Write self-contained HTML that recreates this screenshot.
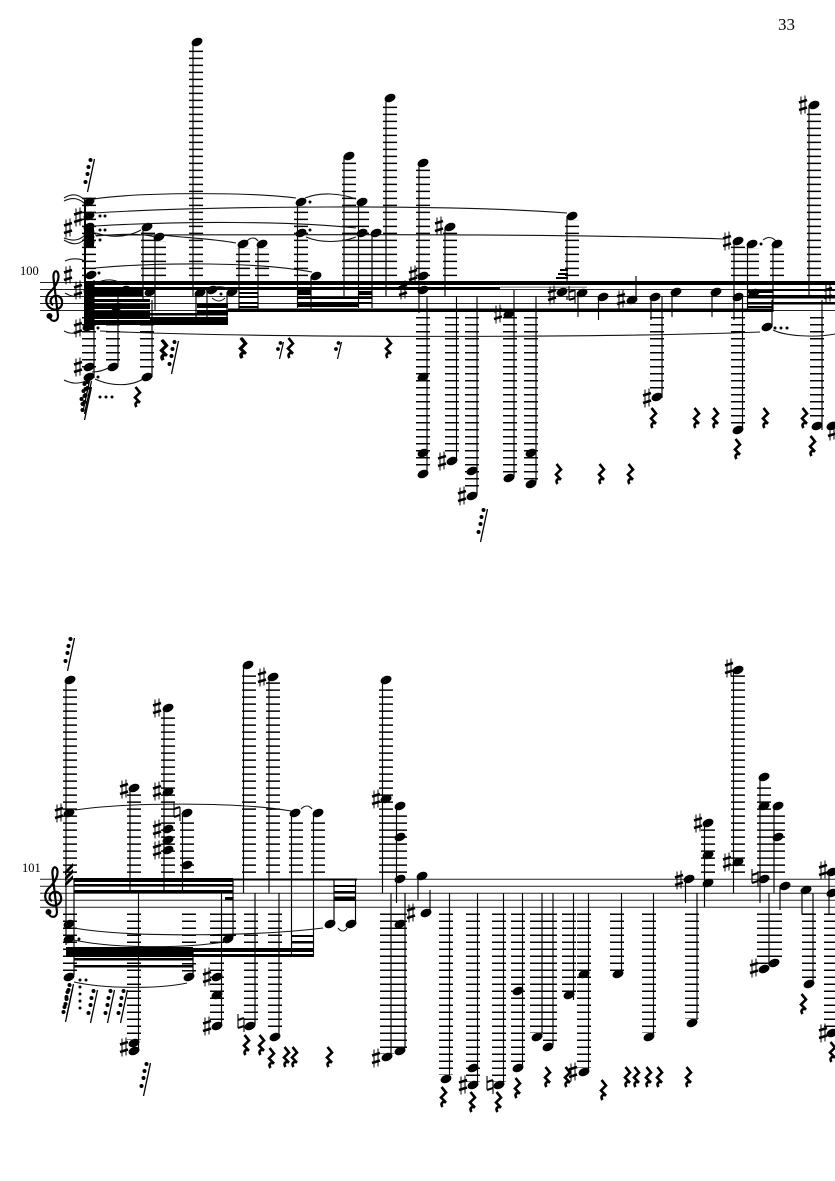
<!DOCTYPE html>
<html><head><meta charset="utf-8"><style>
html,body{margin:0;padding:0;background:#fff}
svg{display:block}
text{font-family:"Liberation Serif",serif;fill:#000}
.st{stroke:#222;stroke-width:1;fill:none}
.l{stroke:#000;stroke-dasharray:1.5 5.5;fill:none}
.s{stroke:#000;stroke-width:1.15;fill:none}
.t{stroke:#111;stroke-width:1.1;fill:none}
</style></head><body>
<svg width="835" height="1181" viewBox="0 0 835 1181" xmlns="http://www.w3.org/2000/svg">
<defs>
<ellipse id="n" rx="5.7" ry="3.9" transform="rotate(-22)"/>
<g id="h"><path d="M-2 -8.5V9.5M2 -9.5V8.5" stroke="#000" stroke-width="1"/><path d="M-4 -2.500L4 -5M-4 5L4 2.500" stroke="#000" stroke-width="2.6"/></g>
<g id="a"><path d="M-3 -9V5M3 -5V9" stroke="#000" stroke-width="1.1"/><path d="M-3 -3L3 -5M-3 5L3 3" stroke="#000" stroke-width="2.2"/></g>
<path id="r" d="M-1.500 -10L3 -4.500L-2 .5L3 5.500C0 4 -3 6 -.5 10" fill="none" stroke="#000" stroke-width="2.6"/>
<g id="g"><path d="M3.500 -16L-3.500 17" stroke="#000" stroke-width="1.3"/><circle cx="-.5" cy="-15" r="2"/><circle cx="-2.500" cy="-8" r="2"/><circle cx="-3.500" cy="-1" r="2"/><circle cx="-5.500" cy="7" r="2"/></g>
<g id="q"><path d="M2.500 -8L-1.500 9" stroke="#000" stroke-width="1.2"/><circle cx="-.5" cy="-7" r="1.9"/><circle cx="-3" cy="-1" r="1.9"/></g>
<g id="c"><path d="M49 316C51 323 58 322 58 316L53.500 278C53 272 56 269 58 273C60 279 56 286 51 291C44 297 45 306 52 309C58 311 63 307 62 301C61 295 54 294 51 299C50 302 51 304 53 305" fill="none" stroke="#000" stroke-width="2.2"/><circle cx="49.500" cy="316" r="3"/></g>
</defs>
<text x="778" y="30" font-size="17">33</text>
<text x="20" y="275" font-size="12.5">100</text>
<text x="22" y="872" font-size="12.5">101</text>
<path class="st" d="M40 282.500H835M40 289.500H835M40 296.500H835M40 303.500H835M40 310.500H835"/>
<path class="st" d="M40 879.300H835M40 886.300H835M40 893.300H835M40 900.300H835M40 907.300H835"/>
<use href="#c"/><use href="#c" x="-1" y="596"/>

<path class="l" stroke-width="14" d="M89 276.100V195M196 276.100V46M148 276.100V232M159 276.100V241M243 276.100V248M262 276.100V248M301 276.100V206M349 276.100V160M362 276.100V206M376 276.100V237M390 276.100V102M423 276.100V167M450 276.100V232M572 276.100V220M738 276.100V245M752 276.100V248M777 276.100V248M814 276.100V109"/>
<path class="l" stroke-width="14" d="M89 317V372M113 317V362M147 317V372M423 317V470M452 317V456M472 317V491M510 317V474M531 317V480M657 317V392M738 317V426M817 317V422"/>
<path class="l" stroke-width="14" d="M70 872.900V684M134 872.900V792M168 872.900V713M187 872.900V818M249 872.900V670M273 872.900V681M296 872.900V818M318 872.900V818M386 872.900V685M400 872.900V810M708 872.900V828M738 872.900V674M764 872.900V782M778 872.900V810"/>
<path class="l" stroke-width="14" d="M70 913.500V975M134 913.500V1040M189 913.500V943M189 963V975M217 913.500V1022M229 913.500V936M251 913.500V1022M275 913.500V1032M387 913.500V1054M400 913.500V1048M446 913.500V1075M473 913.500V1082M499 913.500V1082M518 913.500V1064M537 913.500V1033M550 913.500V1043M569 913.500V993M584 913.500V1068M617 913.500V971M649 913.500V1033M692 913.500V1019M764 913.500V964M775 913.500V960M809 913.500V981M831 913.500V1028"/>

<path d="M85 281H835V285H85ZM94 287H500L500 290H94ZM93 290H143V296H93ZM85 299H150V302H85ZM85 304H150V309H85ZM85 311H150V319H85ZM85 320H228V325H85ZM150 317H228V320H150ZM197 303H228V308H197ZM197 310H228V313H197ZM143 313H228V315.500H143ZM228 308.500H773V312H228ZM239 292H258V294H239ZM239 296H258V298H239ZM239 302H258V304H239ZM239 306H258V308H239ZM297 290H311V295H297ZM297 297H358V299H297ZM297 302H358V307H297ZM358 291H372V295H358ZM358 297H372V299H358ZM358 302H372V304H358ZM560 269H568V271H560ZM558 273H568V275H558ZM556 277H568V279H556ZM748 290H773V293H748ZM748 295H835V298.500H748ZM748 302H835V304.500H748ZM748 306H773V308H748ZM772 289H835V291H772Z"/>
<path d="M500 286.500H587V288H500Z" fill="#999"/>
<path d="M84 200H86V330H84ZM85 228H94V247H85ZM85 282H94V330H85Z"/>

<path class="s" d="M94 280V378M118 290V367M143 227V300M155 237V310M152 300V377M193 42V296M196 292V325M207 290V325M227 292V325M239 244V310M258 244V310M297.500 202V308M311 276V310M344 156V296M358.500 202V308M372 233V308M386 98V296M419 163V313M427 297V472M445 227V296M456.500 297V460M477 297V495M514 290V477M536 297V482M567 216V283M578 293V317M598.500 297V320M636 276V300M651 297V320M662 297V398M672 292V317M712 292V317M734 241V320M742.500 297V428M747.500 244V310M773 244V312M772 300V327M809 105V295M822 300V430M567 296V300"/>
<g>
<use href="#n" x="89" y="202"/><use href="#n" x="89" y="216"/><use href="#n" x="89" y="227"/><use href="#n" x="89" y="233"/><use href="#n" x="89" y="238"/><use href="#n" x="89" y="243"/><use href="#n" x="91" y="275"/><use href="#n" x="89" y="290"/><use href="#n" x="88" y="327"/><use href="#n" x="89" y="367"/><use href="#n" x="89" y="377"/>
<use href="#n" x="113" y="367"/><use href="#n" x="125" y="290"/><use href="#n" x="150" y="292"/><use href="#n" x="117" y="307"/><use href="#n" x="147" y="227"/><use href="#n" x="159" y="237"/><use href="#n" x="147" y="377"/>
<use href="#n" x="197" y="42"/><use href="#n" x="200" y="293"/><use href="#n" x="212" y="290"/><use href="#n" x="232" y="292"/>
<use href="#n" x="243" y="244"/><use href="#n" x="262" y="244"/><use href="#n" x="301" y="202"/><use href="#n" x="301" y="233"/><use href="#n" x="316" y="276"/><use href="#n" x="349" y="156"/><use href="#n" x="362" y="202"/><use href="#n" x="362" y="233"/><use href="#n" x="376" y="233"/><use href="#n" x="390" y="98"/>
<use href="#n" x="423" y="163"/><use href="#n" x="423" y="276"/><use href="#n" x="423" y="290"/><use href="#n" x="423" y="377"/><use href="#n" x="423" y="453"/><use href="#n" x="423" y="474"/>
<use href="#n" x="450" y="227"/><use href="#n" x="452" y="461"/><use href="#n" x="472" y="471"/><use href="#n" x="472" y="496"/><use href="#n" x="509" y="314"/><use href="#n" x="509" y="478"/><use href="#n" x="531" y="453"/><use href="#n" x="531" y="484"/>
<use href="#n" x="572" y="216"/><use href="#n" x="562" y="292"/><use href="#n" x="582" y="293"/><use href="#n" x="603" y="297"/><use href="#n" x="632" y="300"/><use href="#n" x="655" y="297"/><use href="#n" x="657" y="397"/><use href="#n" x="676" y="292"/><use href="#n" x="716" y="292"/>
<use href="#n" x="738" y="241"/><use href="#n" x="738" y="297"/><use href="#n" x="738" y="430"/><use href="#n" x="752" y="244"/><use href="#n" x="754" y="293"/><use href="#n" x="777" y="244"/><use href="#n" x="767" y="327"/><use href="#n" x="814" y="105"/><use href="#n" x="817" y="426"/><use href="#n" x="832" y="426"/>
</g>
<use href="#h" x="68" y="228"/><use href="#h" x="78" y="217"/><use href="#h" x="68" y="275"/><use href="#h" x="78" y="290"/><use href="#h" x="78" y="328"/><use href="#h" x="78" y="367"/><use href="#h" x="413" y="275"/><use href="#h" x="403" y="290"/><use href="#h" x="439" y="226"/><use href="#h" x="442" y="461"/><use href="#h" x="462" y="496"/><use href="#h" x="498" y="314"/><use href="#h" x="552" y="295"/><use href="#h" x="621" y="299"/><use href="#h" x="647" y="398"/><use href="#h" x="727" y="241"/><use href="#h" x="803" y="105"/><use href="#h" x="828" y="293"/><use href="#h" x="832" y="431"/><use href="#a" x="572" y="295"/>
<use href="#r" x="137" y="397"/><use href="#r" x="163" y="350"/><use href="#r" x="164" y="350"/><use href="#r" x="242" y="348"/><use href="#r" x="243" y="348"/><use href="#r" x="290" y="348"/><use href="#r" x="388" y="348"/><use href="#r" x="558" y="474"/><use href="#r" x="601" y="474"/><use href="#r" x="630" y="474"/><use href="#r" x="653" y="418"/><use href="#r" x="696" y="418"/><use href="#r" x="715" y="418"/><use href="#r" x="765" y="418"/><use href="#r" x="804" y="418"/><use href="#r" x="737" y="449"/><use href="#r" x="812" y="446"/>
<use href="#g" x="91" y="175"/><use href="#g" x="175" y="357"/><use href="#q" x="281" y="350"/><use href="#q" x="339" y="350"/><use href="#g" x="484" y="525"/><use href="#g" x="88" y="403"/><use href="#g" x="88" y="397"/><use href="#g" x="87" y="392"/>
<g><circle cx="100" cy="216" r="1.5"/><circle cx="105" cy="216" r="1.5"/><circle cx="100" cy="230" r="1.5"/><circle cx="105" cy="230" r="1.5"/><circle cx="100" cy="240" r="1.5"/><circle cx="99" cy="273" r="1.5"/><circle cx="98" cy="289" r="1.5"/><circle cx="98" cy="328" r="1.5"/><circle cx="98" cy="377" r="1.5"/><circle cx="100" cy="397" r="1.5"/><circle cx="106" cy="397" r="1.5"/><circle cx="112" cy="397" r="1.5"/><circle cx="310" cy="202" r="1.5"/><circle cx="310" cy="230" r="1.5"/><circle cx="221" cy="294" r="1.5"/><circle cx="761" cy="244" r="1.5"/><circle cx="775" cy="328" r="1.5"/><circle cx="781" cy="328" r="1.5"/><circle cx="787" cy="328" r="1.5"/></g>
<g class="t">
<path d="M94 199C140 192 250 192 296 198"/><path d="M95 213C200 206 450 204 567 213"/><path d="M95 226C180 221 290 221 356 228"/><path d="M95 235C280 235 550 233 723 239"/><path d="M96 233C115 239 130 236 141 230"/><path d="M96 236C120 234 140 233 155 237"/><path d="M160 235C190 238 215 239 236 243"/><path d="M95 268C160 262 260 262 312 272"/><path d="M95 284C105 278 115 279 122 284"/><path d="M100 331C250 338 600 338 760 332"/><path d="M773 330C785 336 815 338 835 334"/><path d="M95 379C110 386 130 387 143 379"/><path d="M92 372C100 372 105 370 110 367"/>
<path d="M305 198C320 192 340 193 356 199"/><path d="M306 237C320 243 340 243 356 237"/><path d="M247 241C251 237 255 237 258 241"/><path d="M206 291C215 285 225 286 231 290"/><path d="M212 298C217 302 221 302 225 298"/><path d="M763 240C768 236 772 237 776 241"/>
<path d="M64 198C72 193 78 194 85 200"/><path d="M64 201C72 197 78 198 84 203"/><path d="M64 240C72 245 78 245 84 240"/><path d="M64 238C72 241 78 241 84 236"/><path d="M65 261C72 258 78 258 85 261"/><path d="M65 293C72 297 75 297 78 294"/><path d="M64 331C70 334 74 334 78 331"/><path d="M64 380C72 384 78 384 86 381"/>
</g>

<path d="M65 871L73 863V867L65 875ZM65 877L73 869V873L65 881ZM65 883L73 875V879L65 887Z"/>
<path d="M74 878H233V882H74ZM233 878.500H357V880.500H233ZM74 884H233V886H74ZM74 890H233L233 893H74ZM225 897H233V900H225ZM334 885H356V887H334ZM334 891H356V893H334ZM334 896.500H356V901H334Z"/>
<path d="M66 947H193V957H66ZM74 965H193V967.500H74ZM74 958H193V960.500H74ZM193 948H314V952H193ZM193 954H314V957H193ZM292 935H314V937H292ZM292 941H314V943.500H292Z"/>
<path class="s" d="M66 680V945M74 878V975M130 788V893M138.500 893V1050M164 708V892M182.500 813V890M193 950V975M221.500 893V1025M233 880V937M243.500 665V893M255 893V1025M269 677V893M279 893V1035M291.500 813V955M313.500 813V955M334 880V924M355.500 880V924M382.500 680V893M391 893V1055M396.500 806V903M405 893V1047M418 876V900M430 890V913M449.500 893V1075M477.500 893V1085M503.500 893V1085M522.500 893V1065M542 893V1035M553 893V1045M573.500 893V1000M588.500 893V1070M621.500 893V972M653.500 893V1035M685.500 879V903M697 893V1020M704.500 825V907M733.500 670V893M760 777V903M769 893V965M774 806V893M780 886V910M802 890V914H813M813 893V982M829 872V915"/>
<g>
<use href="#n" x="70" y="680"/><use href="#n" x="69" y="813"/><use href="#n" x="69" y="924"/><use href="#n" x="69" y="939"/><use href="#n" x="69" y="977"/>
<use href="#n" x="134" y="788"/><use href="#n" x="134" y="1043"/><use href="#n" x="134" y="1051"/><use href="#n" x="168" y="708"/><use href="#n" x="168" y="792"/><use href="#n" x="168" y="829"/><use href="#n" x="168" y="840"/><use href="#n" x="168" y="850"/>
<use href="#n" x="187" y="813"/><use href="#n" x="187" y="865"/><use href="#n" x="189" y="977"/><use href="#n" x="217" y="977"/><use href="#n" x="217" y="995"/><use href="#n" x="217" y="1026"/><use href="#n" x="228" y="939"/>
<use href="#n" x="248" y="665"/><use href="#n" x="250" y="1026"/><use href="#n" x="273" y="677"/><use href="#n" x="275" y="1037"/><use href="#n" x="295" y="813"/><use href="#n" x="318" y="813"/><use href="#n" x="330" y="924"/><use href="#n" x="351" y="924"/>
<use href="#n" x="386" y="680"/><use href="#n" x="386" y="799"/><use href="#n" x="400" y="806"/><use href="#n" x="400" y="837"/><use href="#n" x="400" y="879"/><use href="#n" x="422" y="876"/><use href="#n" x="426" y="913"/><use href="#n" x="400" y="924"/><use href="#n" x="400" y="1051"/><use href="#n" x="387" y="1057"/>
<use href="#n" x="446" y="1079"/><use href="#n" x="473" y="1068"/><use href="#n" x="473" y="1085"/><use href="#n" x="499" y="1085"/><use href="#n" x="518" y="991"/><use href="#n" x="518" y="1068"/><use href="#n" x="537" y="1037"/><use href="#n" x="548" y="1047"/><use href="#n" x="569" y="995"/><use href="#n" x="584" y="974"/><use href="#n" x="584" y="1072"/><use href="#n" x="618" y="974"/><use href="#n" x="649" y="1037"/>
<use href="#n" x="689" y="879"/><use href="#n" x="692" y="1023"/><use href="#n" x="708" y="823"/><use href="#n" x="708" y="855"/><use href="#n" x="708" y="883"/><use href="#n" x="738" y="670"/><use href="#n" x="738" y="862"/><use href="#n" x="764" y="777"/><use href="#n" x="764" y="806"/><use href="#n" x="764" y="879"/><use href="#n" x="778" y="806"/><use href="#n" x="778" y="837"/><use href="#n" x="764" y="969"/><use href="#n" x="774" y="963"/><use href="#n" x="785" y="886"/><use href="#n" x="806" y="890"/><use href="#n" x="809" y="984"/><use href="#n" x="832" y="872"/><use href="#n" x="832" y="893"/><use href="#n" x="832" y="1033"/>
</g>
<use href="#h" x="59" y="813"/><use href="#h" x="124" y="789"/><use href="#h" x="157" y="708"/><use href="#h" x="157" y="791"/><use href="#h" x="157" y="829"/><use href="#h" x="157" y="850"/><use href="#h" x="124" y="1047"/><use href="#h" x="207" y="977"/><use href="#h" x="207" y="1026"/><use href="#h" x="262" y="677"/><use href="#h" x="376" y="799"/><use href="#h" x="376" y="1058"/><use href="#h" x="411" y="913"/><use href="#h" x="463" y="1085"/><use href="#h" x="573" y="1072"/><use href="#h" x="679" y="880"/><use href="#h" x="698" y="823"/><use href="#h" x="729" y="668"/><use href="#h" x="727" y="862"/><use href="#h" x="754" y="968"/><use href="#h" x="823" y="870"/><use href="#h" x="823" y="1033"/>
<use href="#a" x="177" y="812"/><use href="#a" x="241" y="1023"/><use href="#a" x="490" y="1085"/><use href="#a" x="755" y="878"/>
<use href="#r" x="246" y="1045"/><use href="#r" x="261" y="1045"/><use href="#r" x="271" y="1058"/><use href="#r" x="286" y="1057"/><use href="#r" x="294" y="1057"/><use href="#r" x="329" y="1057"/><use href="#r" x="443" y="1097"/><use href="#r" x="472" y="1102"/><use href="#r" x="498" y="1102"/><use href="#r" x="517" y="1088"/><use href="#r" x="547" y="1077"/><use href="#r" x="567" y="1077"/><use href="#r" x="603" y="1090"/><use href="#r" x="627" y="1077"/><use href="#r" x="636" y="1077"/><use href="#r" x="648" y="1077"/><use href="#r" x="659" y="1077"/><use href="#r" x="688" y="1077"/><use href="#r" x="803" y="1004"/><use href="#r" x="832" y="1052"/>
<use href="#g" x="71" y="654"/><use href="#g" x="69" y="1005"/><use href="#g" x="70" y="1000"/><use href="#g" x="94" y="1006"/><use href="#g" x="111" y="1006"/><use href="#g" x="124" y="1006"/><use href="#g" x="147" y="1079"/>
<g><circle cx="79" cy="939" r="1.5"/><circle cx="80" cy="980" r="1.5"/><circle cx="86" cy="980" r="1.5"/><circle cx="80" cy="987" r="1.5"/><circle cx="80" cy="994" r="1.5"/><circle cx="80" cy="1001" r="1.5"/><circle cx="80" cy="1008" r="1.5"/></g>
<g class="t">
<path d="M75 810C130 802 240 802 291 811"/><path d="M301 809C305 805 309 805 312 809"/><path d="M74 928C130 938 260 936 323 928"/><path d="M74 940C110 948 180 949 224 942"/><path d="M74 982C105 989 160 989 187 983"/><path d="M338 928C341 932 345 932 347 928"/>
</g>
</svg>
</body></html>
